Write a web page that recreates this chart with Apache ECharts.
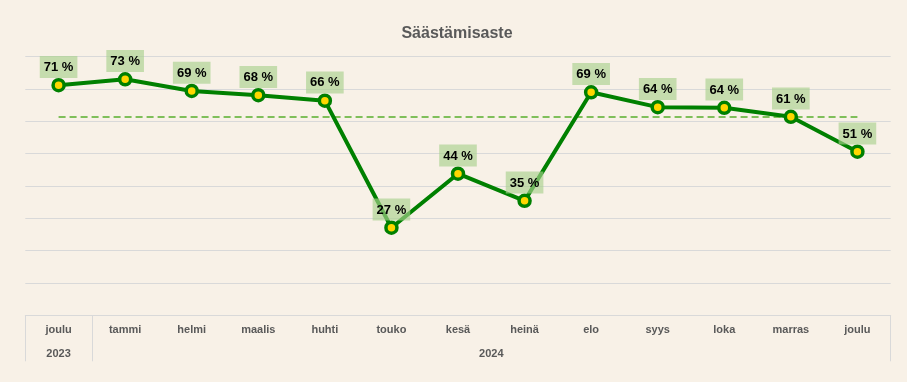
<!DOCTYPE html>
<html>
<head>
<meta charset="utf-8">
<script src="https://cdn.jsdelivr.net/npm/echarts@6/dist/echarts.min.js"></script>
<style>
html,body{margin:0;padding:0;background:#f8f1e7;}
#chart{width:907px;height:382px;}
</style>
</head>
<body>
<div id="chart"></div>
<script>
var title = 'Säästämisaste';
var months = ['joulu','tammi','helmi','maalis','huhti','touko','kesä','heinä','elo','syys','loka','marras','joulu'];
var monthYears = ['2023','2024','2024','2024','2024','2024','2024','2024','2024','2024','2024','2024','2024'];
var savingRate = [71.2, 73.0, 69.4, 68.1, 66.4, 27.1, 43.8, 35.4, 69.0, 64.4, 64.2, 61.4, 50.6];
var referenceLevel = 61.4;
var yTicks = {min: 0, max: 80, interval: 10};

// year groups derived from monthYears
var groups = [];
monthYears.forEach(function (y, i) {
  var g = groups[groups.length - 1];
  if (!g || g.year !== y) { groups.push({year: y, start: i, end: i}); }
  else { g.end = i; }
});
var yearCenters = groups.map(function (g) { return (g.start + g.end) / 2; });
var yearBounds = [groups[0].start - 0.5].concat(groups.map(function (g) { return g.end + 0.5; }));

var chart = echarts.init(document.getElementById('chart'));
var font = 'Liberation Sans';
chart.setOption({
  backgroundColor: '#f8f1e7',
  animation: false,
  title: {
    text: title, left: 452, top: 21, textAlign: 'center',
    textStyle: {fontFamily: font, fontSize: 16, fontWeight: 'bold', color: '#595959'}
  },
  grid: {left: 25.3, right: 16.3, top: 56.7, bottom: 66.7},
  xAxis: [{
    type: 'category', data: months, boundaryGap: true,
    axisLine: {show: true, lineStyle: {color: '#d9d9d9', width: 1}},
    axisTick: {show: false},
    axisLabel: {margin: 9, fontFamily: font, fontSize: 11, fontWeight: 'bold', color: '#595959', interval: 0}
  }, {
    type: 'value', min: -0.5, max: 12.5, position: 'bottom', offset: 0,
    axisLine: {show: false},
    splitLine: {show: false},
    axisTick: {show: true, customValues: yearBounds, length: 46, lineStyle: {color: '#d9d9d9', width: 1}},
    axisLabel: {
      customValues: yearCenters, margin: 33, fontFamily: font, fontSize: 11, fontWeight: 'bold', color: '#595959',
      formatter: function (v) {
        for (var i = 0; i < yearCenters.length; i++) { if (Math.abs(yearCenters[i] - v) < 1e-6) return groups[i].year; }
        return '';
      }
    }
  }],
  yAxis: {
    type: 'value', min: yTicks.min, max: yTicks.max, interval: yTicks.interval,
    axisLine: {show: false}, axisTick: {show: false}, axisLabel: {show: false},
    splitLine: {lineStyle: {color: '#d9d9d9', width: 1}}
  },
  series: [{
    type: 'line', data: savingRate, xAxisIndex: 0,
    lineStyle: {color: '#008000', width: 4},
    symbol: 'circle', symbolSize: 11,
    itemStyle: {color: '#ffd700', borderColor: '#008000', borderWidth: 3.5},
    z: 3,
    label: {
      show: true, position: 'top', distance: 0,
      formatter: function (p) { return Math.round(p.value) + ' %'; },
      fontFamily: font, fontSize: 13, fontWeight: 'bold', color: '#000000',
      backgroundColor: 'rgba(169,209,142,0.65)', padding: [5, 4, 4, 4]
    },
    markLine: {
      silent: true, symbol: 'none', label: {show: false},
      lineStyle: {color: '#7fbf5a', width: 2, type: [7, 4]},
      data: [[{coord: [0, referenceLevel]}, {coord: [months.length - 1, referenceLevel]}]],
      z: 1
    }
  }]
});
</script>
</body>
</html>
